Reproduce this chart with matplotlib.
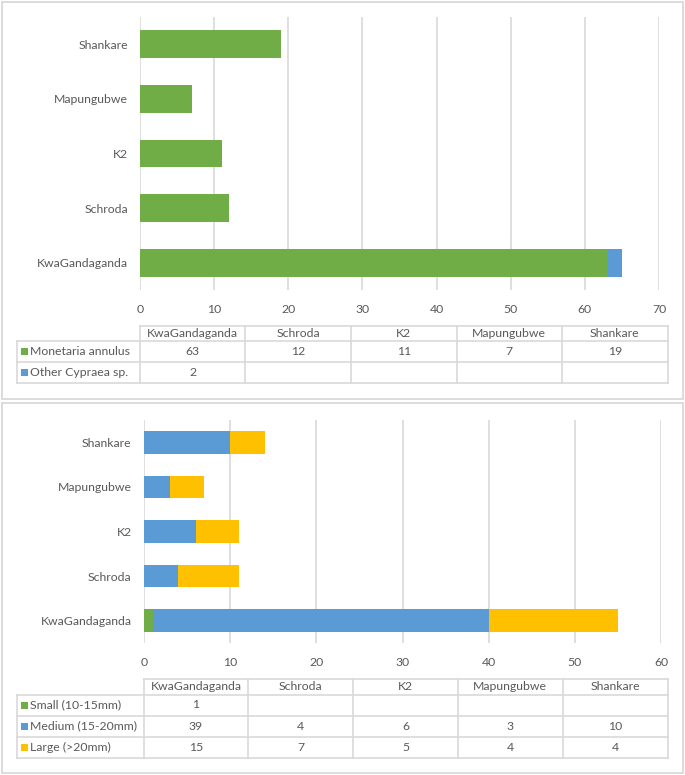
#!/usr/bin/env python3
# -*- coding: utf-8 -*-
"""Cowrie counts per site: species (top) and size classes (bottom), Excel-style with data tables."""

import matplotlib

matplotlib.use("Agg")
import matplotlib.pyplot as plt
from matplotlib.patches import Rectangle
from matplotlib.lines import Line2D

SITES = ["KwaGandaganda", "Schroda", "K2", "Mapungubwe", "Shankare"]

SPECIES = ["Monetaria annulus", "Other Cypraea sp."]
MONETARIA = [63, 12, 11, 7, 19]
OTHER_CYPRAEA = [2, 0, 0, 0, 0]

SIZES = ["Small (10-15mm)", "Medium (15-20mm)", "Large (>20mm)"]
SMALL = [1, 0, 0, 0, 0]
MEDIUM = [39, 4, 6, 3, 10]
LARGE = [15, 7, 5, 4, 4]

TOP_XTICKS = [0, 10, 20, 30, 40, 50, 60, 70]
BOT_XTICKS = [0, 10, 20, 30, 40, 50, 60]

GREEN = "#70AD47"
BLUE = "#5B9BD5"
YELLOW = "#FFC000"
GRID = "#D9D9D9"
TEXT = "#595959"

W, H = 685, 775
FONT = "Lato"
FS = 8.8

plt.rcParams["font.family"] = [FONT, "DejaVu Sans"]


def fx(px):
    return px / W


def fy(py):
    return 1 - py / H


def add_axes(fig, left, right, top, bottom):
    return fig.add_axes([fx(left), fy(bottom), fx(right) - fx(left), fy(top) - fy(bottom)])


def hline(fig, x0, x1, y):
    fig.add_artist(Line2D([fx(x0), fx(x1)], [fy(y), fy(y)], color=GRID, lw=1.2))


def vline(fig, x, y0, y1):
    fig.add_artist(Line2D([fx(x), fx(x)], [fy(y0), fy(y1)], color=GRID, lw=1.2))


def stacked_chart(ax, series, colors, xticks, ypad):
    ypos = list(range(len(SITES)))
    left = [0] * len(SITES)
    for vals, col in zip(series, colors):
        ax.barh(ypos, vals, left=left, height=0.51, color=col, zorder=3)
        left = [a + b for a, b in zip(left, vals)]
    ax.set_xlim(xticks[0], xticks[-1])
    ax.set_ylim(-0.5, len(SITES) - 0.5)
    ax.set_xticks(xticks)
    ax.set_yticks(ypos)
    ax.set_yticklabels(SITES)
    ax.grid(axis="x", color=GRID, lw=1.2, zorder=0)
    for s in ax.spines.values():
        s.set_visible(False)
    ax.tick_params(length=0, labelsize=FS, labelcolor=TEXT)
    ax.tick_params(axis="y", pad=ypad)
    ax.tick_params(axis="x", pad=10)


def data_table(fig, names, series, colors, label_left, col_left, col_right, row_edges):
    ncol = len(SITES)
    cw = (col_right - col_left) / ncol
    # header row
    hline(fig, col_left, col_right, row_edges[0])
    for i, site in enumerate(SITES):
        fig.text(fx(col_left + cw * (i + 0.5)), fy((row_edges[0] + row_edges[1]) / 2), site,
                 ha="center", va="center", fontsize=FS, color=TEXT)
    for k in range(ncol + 1):
        vline(fig, col_left + cw * k, row_edges[0], row_edges[-1])
    vline(fig, label_left, row_edges[1], row_edges[-1])
    for y in row_edges[1:]:
        hline(fig, label_left, col_right, y)
    for r, (name, vals, col) in enumerate(zip(names, series, colors)):
        yc = (row_edges[r + 1] + row_edges[r + 2]) / 2
        fig.add_artist(Rectangle((fx(label_left + 4), fy(yc + 3.5)), fx(7), 7 / H,
                                 facecolor=col, edgecolor="none"))
        fig.text(fx(label_left + 14), fy(yc), name, ha="left", va="center", fontsize=FS, color=TEXT)
        for i, v in enumerate(vals):
            if v:
                fig.text(fx(col_left + cw * (i + 0.5)), fy(yc), str(v),
                         ha="center", va="center", fontsize=FS, color=TEXT)


fig = plt.figure(figsize=(W / 100, H / 100), dpi=100)

# panel frames
fig.add_artist(Rectangle((fx(1.5), fy(399)), fx(681.5), 397.5 / H, fill=False, edgecolor=GRID, lw=1.3))
fig.add_artist(Rectangle((fx(1.5), fy(773)), fx(681.5), 370 / H, fill=False, edgecolor=GRID, lw=1.3))

ax1 = add_axes(fig, 140, 659, 17, 290)
stacked_chart(ax1, [MONETARIA, OTHER_CYPRAEA], [GREEN, BLUE], TOP_XTICKS, 8.5)
data_table(fig, SPECIES, [MONETARIA, OTHER_CYPRAEA], [GREEN, BLUE],
           16.5, 140, 667.5, [326, 341, 362, 383])

ax2 = add_axes(fig, 144, 661, 420, 643)
stacked_chart(ax2, [SMALL, MEDIUM, LARGE], [GREEN, BLUE, YELLOW], BOT_XTICKS, 9)
data_table(fig, SIZES, [SMALL, MEDIUM, LARGE], [GREEN, BLUE, YELLOW],
           16.5, 143.5, 667.5, [679, 694.5, 715.5, 737, 758])

fig.savefig("out.png", dpi=100)
